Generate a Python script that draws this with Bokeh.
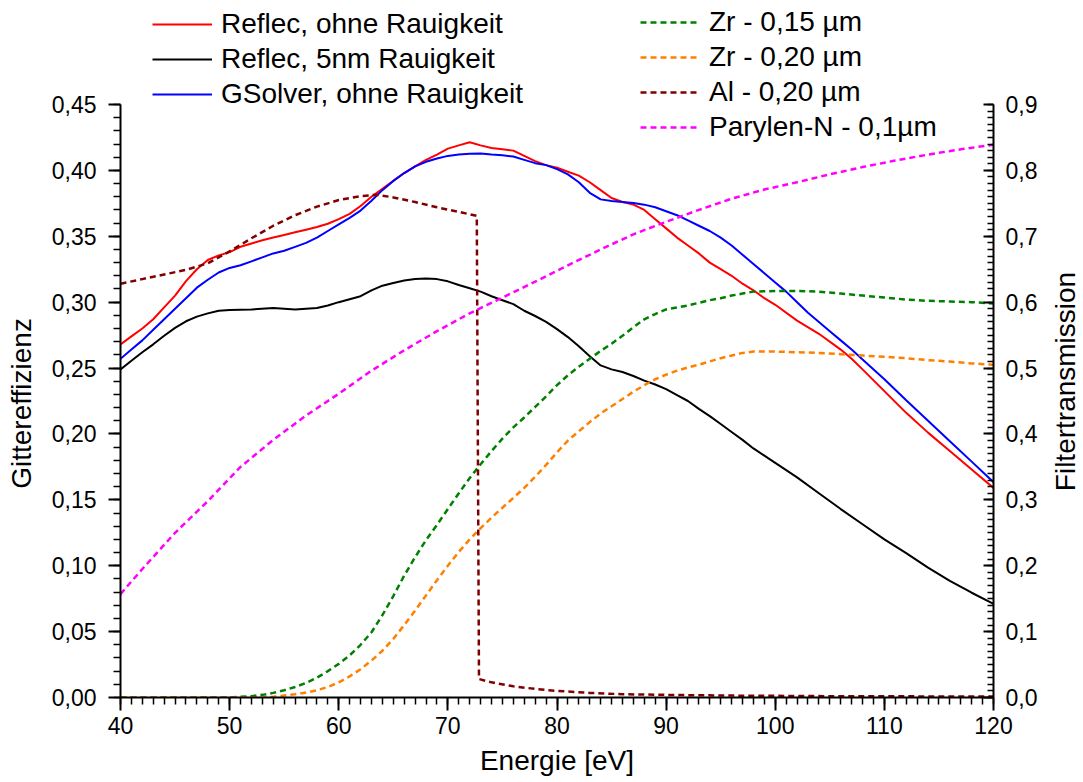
import math
import numpy as np
from bokeh.plotting import figure
from bokeh.layouts import row
from bokeh.models import (Range1d, LinearAxis, FixedTicker, CustomJSTickFormatter,
                          Legend, LegendItem, Label)
from bokeh.embed import file_html
from bokeh.resources import INLINE

# ---------------- data ----------------
# Reflec, ohne Rauigkeit (left axis)
red_x = [40, 41, 42, 43, 44, 45, 46, 47, 48, 49, 50, 51, 52, 53, 54, 55, 56, 57, 58, 59,
         60, 61, 62, 63, 64, 65, 66, 67, 68, 69, 70, 71, 72, 73, 74, 75, 76, 77, 78, 79,
         80, 81, 82, 83, 84, 85, 86, 87, 88, 89, 90, 91, 92, 93, 94, 95, 96, 97, 98, 99,
         100, 102, 104, 106, 107, 108, 110, 112, 114, 116, 118, 120]
red_y = [0.268, 0.274, 0.280, 0.287, 0.296, 0.305, 0.316, 0.325, 0.332, 0.3355, 0.338, 0.342,
         0.3445, 0.347, 0.349, 0.351, 0.353, 0.355, 0.357, 0.3595, 0.363, 0.367, 0.373, 0.380,
         0.386, 0.392, 0.398, 0.403, 0.408, 0.412, 0.4165, 0.419, 0.4214, 0.419, 0.417, 0.416,
         0.415, 0.411, 0.407, 0.404, 0.402, 0.399, 0.396, 0.391, 0.385, 0.379, 0.376, 0.374,
         0.370, 0.363, 0.356, 0.349, 0.343, 0.337, 0.330, 0.325, 0.320, 0.314, 0.309, 0.303,
         0.298, 0.286, 0.276, 0.264, 0.257, 0.249, 0.2325, 0.216, 0.201, 0.187, 0.173, 0.159]

# Reflec, 5nm Rauigkeit (left axis)
black_x = [40, 41, 42, 43, 44, 45, 46, 47, 48, 49, 50, 52, 54, 56, 58, 59, 60, 62, 63, 64,
           65, 66, 67, 68, 69, 70, 71, 72, 73, 74, 75, 76, 77, 78, 79, 80, 81, 82, 83, 84,
           85, 86, 87, 88, 89, 90, 91, 92, 93, 94, 95, 96, 97, 98, 99, 100, 102, 104, 106,
           108, 110, 112, 114, 116, 118, 120]
black_y = [0.249, 0.2555, 0.262, 0.268, 0.2745, 0.2805, 0.2855, 0.289, 0.2915, 0.2935, 0.294,
           0.2945, 0.2955, 0.2945, 0.2955, 0.2975, 0.300, 0.3045, 0.309, 0.3125, 0.3145, 0.3165,
           0.3175, 0.318, 0.3175, 0.3158, 0.313, 0.3105, 0.308, 0.3045, 0.3015, 0.2985, 0.2935,
           0.2895, 0.285, 0.2795, 0.2735, 0.2665, 0.259, 0.252, 0.249, 0.247, 0.244, 0.2405,
           0.2375, 0.234, 0.2295, 0.225, 0.219, 0.2135, 0.2075, 0.2015, 0.1955, 0.189, 0.1835,
           0.178, 0.167, 0.155, 0.143, 0.1315, 0.120, 0.1095, 0.0985, 0.0885, 0.0795, 0.0711]

# GSolver, ohne Rauigkeit (left axis)
blue_x = [40, 41, 42, 43, 44, 45, 46, 47, 48, 49, 50, 51, 52, 53, 54, 55, 56, 57, 58, 59,
          60, 61, 62, 63, 64, 65, 66, 67, 68, 69, 70, 71, 72, 73, 74, 75, 76, 77, 78, 79,
          80, 81, 82, 83, 84, 85, 86, 87, 88, 89, 90, 91, 92, 93, 94, 95, 96, 97, 98, 99,
          100, 101, 102, 103, 104, 105, 106, 107, 108, 110, 112, 114, 116, 118, 120]
blue_y = [0.257, 0.264, 0.271, 0.279, 0.287, 0.295, 0.303, 0.311, 0.317, 0.3225, 0.326, 0.328,
          0.331, 0.334, 0.337, 0.339, 0.342, 0.345, 0.349, 0.354, 0.359, 0.364, 0.3695, 0.377,
          0.385, 0.392, 0.398, 0.403, 0.4065, 0.409, 0.411, 0.412, 0.4127, 0.4128, 0.412,
          0.4115, 0.4105, 0.408, 0.4055, 0.404, 0.401, 0.397, 0.391, 0.383, 0.378, 0.3768,
          0.376, 0.3752, 0.374, 0.372, 0.369, 0.366, 0.362, 0.358, 0.354, 0.349, 0.343, 0.336,
          0.329, 0.322, 0.315, 0.308, 0.300, 0.292, 0.285, 0.278, 0.271, 0.264, 0.2565, 0.2415,
          0.2255, 0.210, 0.1945, 0.179, 0.1634]

# Zr - 0,15 um (right axis)
zr15_x = [40, 50, 51, 52, 53, 54, 55, 56, 57, 58, 59, 60, 61, 62, 63, 64, 65, 66, 67, 68, 69,
          70, 71, 72, 73, 74, 75, 76, 77, 78, 79, 80, 81, 82, 83, 84, 85, 86, 87, 88, 89, 90,
          91, 92, 93, 94, 95, 96, 97, 98, 100, 102, 104, 106, 108, 110, 112, 114, 116, 118, 120]
zr15_y = [0.0, 0.0, 0.001, 0.002, 0.004, 0.007, 0.011, 0.016, 0.022, 0.030, 0.040, 0.051, 0.064,
          0.080, 0.099, 0.125, 0.154, 0.185, 0.213, 0.239, 0.262, 0.286, 0.310, 0.333, 0.354,
          0.374, 0.393, 0.410, 0.425, 0.441, 0.457, 0.474, 0.489, 0.502, 0.514, 0.526, 0.537,
          0.549, 0.562, 0.574, 0.582, 0.589, 0.592, 0.595, 0.599, 0.603, 0.606, 0.610, 0.613,
          0.616, 0.617, 0.617, 0.616, 0.613, 0.610, 0.607, 0.604, 0.602, 0.601, 0.600, 0.598]

# Zr - 0,20 um (right axis)
zr20_x = [40, 53, 54, 55, 56, 57, 58, 59, 60, 61, 62, 63, 64, 65, 66, 67, 68, 69, 70, 71, 72,
          73, 74, 75, 76, 77, 78, 79, 80, 81, 82, 83, 84, 85, 86, 87, 88, 89, 90, 91, 92, 93,
          94, 95, 96, 97, 98, 100, 102, 104, 106, 108, 110, 112, 114, 116, 118, 120]
zr20_y = [0.0, 0.0, 0.001, 0.003, 0.005, 0.0075, 0.011, 0.016, 0.023, 0.032, 0.043, 0.056,
          0.071, 0.089, 0.110, 0.132, 0.155, 0.178, 0.200, 0.221, 0.240, 0.257, 0.273, 0.288,
          0.303, 0.318, 0.335, 0.353, 0.372, 0.390, 0.404, 0.418, 0.431, 0.442, 0.453, 0.464,
          0.474, 0.483, 0.490, 0.496, 0.501, 0.505, 0.510, 0.515, 0.519, 0.523, 0.525, 0.525,
          0.524, 0.523, 0.521, 0.519, 0.517, 0.515, 0.512, 0.510, 0.507, 0.505]

# Al - 0,20 um (right axis)
al_x = [40, 42, 44, 46, 48, 50, 52, 54, 56, 58, 60, 62, 63.5, 65, 67, 69, 71, 72.65, 72.85,
        74, 76, 78, 80, 83, 86, 90, 95, 100, 105, 110, 115, 120]
al_y = [0.628, 0.635, 0.642, 0.649, 0.659, 0.677, 0.697, 0.716, 0.732, 0.745, 0.755, 0.761,
        0.763, 0.759, 0.752, 0.744, 0.737, 0.731, 0.028, 0.023, 0.017, 0.013, 0.010, 0.007,
        0.005, 0.004, 0.003, 0.0025, 0.002, 0.002, 0.0015, 0.0015]

# Parylen-N - 0,1 um (right axis)
par_x = [40, 42, 45, 48, 51, 54, 57, 60, 63, 66, 69, 72, 75, 78, 81, 84, 87, 90, 93, 96, 99,
         102, 105, 108, 111, 114, 117, 120]
par_y = [0.157, 0.195, 0.250, 0.298, 0.350, 0.391, 0.428, 0.461, 0.496, 0.527, 0.556, 0.583,
         0.607, 0.631, 0.656, 0.680, 0.703, 0.722, 0.740, 0.757, 0.771, 0.782, 0.794, 0.805,
         0.815, 0.824, 0.832, 0.839]

x_ticks = [40, 50, 60, 70, 80, 90, 100, 110, 120]
y_left_ticks = [0.0, 0.05, 0.10, 0.15, 0.20, 0.25, 0.30, 0.35, 0.40, 0.45]
y_right_ticks = [0.0, 0.1, 0.2, 0.3, 0.4, 0.5, 0.6, 0.7, 0.8, 0.9]

labels_left = ["Reflec, ohne Rauigkeit", "Reflec, 5nm Rauigkeit", "GSolver, ohne Rauigkeit"]
labels_right = ["Zr - 0,15 µm", "Zr - 0,20 µm", "Al - 0,20 µm", "Parylen-N - 0,1µm"]
right_axis_title = "Filtertransmission"

# ---------------- layout geometry ----------------
FONT = "Liberation Sans"
W, H = 1083, 782
LABEL_W = 33                 # strip on the far right that carries the right axis title
MAIN_W = W - LABEL_W
BORDER_L, BORDER_R, BORDER_B = 120, 57, 85
AXIS_PX = 593                # pixel height of the drawn 0..0.45 axis
FRAME_PX = H - BORDER_B      # frame reaches the top so the legends are not clipped
Y_LEFT_MAX, Y_RIGHT_MAX = 0.45, 0.9
scale = FRAME_PX / AXIS_PX
NBSP = "\u00a0"

p = figure(width=MAIN_W, height=H, output_backend="svg", toolbar_location=None,
           x_range=Range1d(40, 120), y_range=Range1d(0, Y_LEFT_MAX * scale),
           min_border_left=BORDER_L, min_border_right=BORDER_R, min_border_top=0,
           min_border_bottom=BORDER_B)
p.extra_y_ranges = {"right": Range1d(0, Y_RIGHT_MAX * scale)}
p.outline_line_color = None
p.xgrid.visible = False
p.ygrid.visible = False
p.background_fill_color = "white"
p.border_fill_color = "white"

r_red = p.line(red_x, red_y, line_color="#FF0000", line_width=2)
r_black = p.line(black_x, black_y, line_color="#000000", line_width=2)
r_blue = p.line(blue_x, blue_y, line_color="#0000FF", line_width=2)

DASH = "6 4"
r_zr15 = p.line(zr15_x, zr15_y, line_color="#008000", line_width=2.5, line_dash=DASH,
                y_range_name="right")
r_zr20 = p.line(zr20_x, zr20_y, line_color="#FF8000", line_width=2.5, line_dash=DASH,
                y_range_name="right")
r_al = p.line(al_x, al_y, line_color="#800000", line_width=2.5, line_dash=DASH,
              y_range_name="right")
r_par = p.line(par_x, par_y, line_color="#FF00FF", line_width=2.5, line_dash=DASH,
               y_range_name="right")

# ---------------- axes ----------------
xax = p.xaxis[0]
xax.ticker = FixedTicker(ticks=x_ticks, minor_ticks=list(range(40, 121)))
xax.formatter = CustomJSTickFormatter(code="return tick.toFixed(0);")
xax.axis_label = "Energie [eV]"
xax.major_tick_out = 13
xax.major_tick_in = 0
xax.minor_tick_out = 7
xax.minor_tick_in = 0
xax.major_label_standoff = 6
xax.axis_label_standoff = 8

yax = p.yaxis[0]
yax.bounds = (0, Y_LEFT_MAX)
yax.ticker = FixedTicker(ticks=y_left_ticks,
                         minor_ticks=[round(v, 3) for v in np.arange(0, 0.4501, 0.01)])
yax.formatter = CustomJSTickFormatter(code="return tick.toFixed(2).replace('.', ',');")
# trailing no-break spaces shift the centred label down to the middle of the drawn axis
yax.axis_label = "Gittereffizienz" + NBSP * 14
yax.major_tick_out = 12
yax.major_tick_in = 0
yax.minor_tick_out = 7
yax.minor_tick_in = 0
yax.major_label_standoff = 12
yax.axis_label_standoff = 12

rax = LinearAxis(y_range_name="right")
rax.bounds = (0, Y_RIGHT_MAX)
rax.ticker = FixedTicker(ticks=y_right_ticks,
                         minor_ticks=[round(v, 3) for v in np.arange(0, 0.9001, 0.01)])
rax.formatter = CustomJSTickFormatter(code="return tick.toFixed(1).replace('.', ',');")
rax.major_tick_out = 0
rax.major_tick_in = 10
rax.minor_tick_out = 0
rax.minor_tick_in = 6
rax.major_label_standoff = 12
p.add_layout(rax, "right")

for ax in (xax, yax, rax):
    ax.axis_line_width = 2
    ax.major_tick_line_width = 2
    ax.minor_tick_line_width = 1.5
    ax.axis_line_color = "black"
    ax.major_tick_line_color = "black"
    ax.minor_tick_line_color = "black"
    ax.major_label_text_font = FONT
    ax.major_label_text_font_size = "23px"
    ax.major_label_text_color = "black"
    ax.axis_label_text_font = FONT
    ax.axis_label_text_font_size = "28px"
    ax.axis_label_text_font_style = "normal"
    ax.axis_label_text_color = "black"

# ---------------- legends ----------------
def make_legend(items, loc):
    return Legend(items=items, location=loc, orientation="vertical",
                  padding=0, margin=0, spacing=3, glyph_width=60, glyph_height=32,
                  label_height=32, label_standoff=9, label_text_font=FONT,
                  label_text_font_size="28px", label_text_color="black",
                  border_line_color=None, background_fill_alpha=0)

leg1 = make_legend([LegendItem(label=labels_left[0], renderers=[r_red]),
                    LegendItem(label=labels_left[1], renderers=[r_black]),
                    LegendItem(label=labels_left[2], renderers=[r_blue])], (32, 587))
leg2 = make_legend([LegendItem(label=labels_right[0], renderers=[r_zr15]),
                    LegendItem(label=labels_right[1], renderers=[r_zr20]),
                    LegendItem(label=labels_right[2], renderers=[r_al]),
                    LegendItem(label=labels_right[3], renderers=[r_par])], (520, 554))
p.add_layout(leg1, "center")
p.add_layout(leg2, "center")

# ---------------- right axis title strip (reads bottom to top) ----------------
# the strip's frame is aligned with the main frame (0..FRAME_PX from the top)
q = figure(width=LABEL_W, height=H, output_backend="svg", toolbar_location=None,
           x_range=Range1d(0, LABEL_W), y_range=Range1d(0, FRAME_PX),
           x_axis_type=None, y_axis_type=None, min_border=0)
q.outline_line_color = None
q.xgrid.visible = False
q.ygrid.visible = False
q.background_fill_color = "white"
q.border_fill_color = "white"
q.add_layout(Label(x=15, y=FRAME_PX - 381, x_units="screen", y_units="screen",
                   text=right_axis_title, angle=math.pi / 2,
                   text_align="center", text_baseline="middle",
                   text_font=FONT, text_font_size="28px", text_color="black"))

layout = row(p, q, spacing=0)
open("out.html", "w").write(file_html(layout, INLINE))
